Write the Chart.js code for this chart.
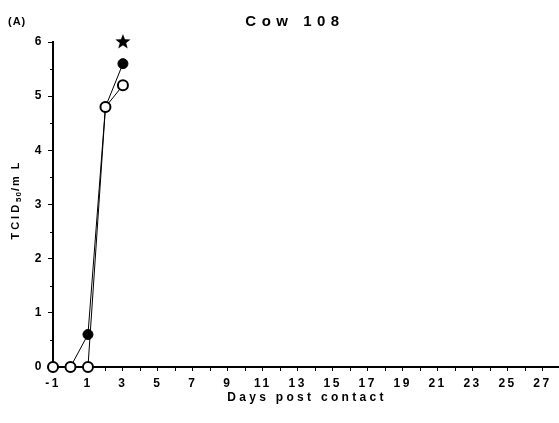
<!DOCTYPE html>
<html>
<head>
<meta charset="utf-8">
<script src="https://cdn.jsdelivr.net/npm/chart.js@4.4.1/dist/chart.umd.min.js"></script>
<style>
  html, body { margin: 0; padding: 0; background: #fff; overflow: hidden; }
  #box { width: 559px; height: 423px; overflow: hidden; }
</style>
</head>
<body>
<div id="box"><canvas id="grafico" width="569" height="423"></canvas></div>
<script>
// dados
const dias = [-1, 0, 1, 2, 3];
const serieAberta = [0, 0, 0, 4.8, 5.2];
const serieCheia = [0, 0, 0.6, 4.8, 5.6];
const estrelaDia = [3];
const estrelaValor = [6];
const rotulosX = [-1, 1, 3, 5, 7, 9, 11, 13, 15, 17, 19, 21, 23, 25, 27];

const fonte = "'Liberation Sans', Arial, sans-serif";

function pontos(xs, ys) {
    return xs.map((x, i) => ({ x: x, y: ys[i] }));
}

// estrela cheia desenhada num canvas à parte
function criarEstrela(r) {
    const c = document.createElement('canvas');
    c.width = r * 2 + 2;
    c.height = r * 2 + 2;
    const g = c.getContext('2d');
    g.fillStyle = '#000';
    g.beginPath();
    for (let i = 0; i < 10; i++) {
        const raio = i % 2 === 0 ? r : r * 0.42;
        const a = -Math.PI / 2 + i * Math.PI / 5;
        const px = r + 1 + raio * Math.cos(a);
        const py = r + 1 + raio * Math.sin(a);
        if (i === 0) g.moveTo(px, py); else g.lineTo(px, py);
    }
    g.closePath();
    g.fill();
    return c;
}

const textos = {
    id: 'textos',
    beforeDraw(chart) {
        chart.ctx.letterSpacing = '2.5px';
    },
    afterDraw(chart) {
        const ctx = chart.ctx;
        const y = chart.scales.y;
        ctx.save();
        ctx.fillStyle = '#000';
        ctx.textBaseline = 'middle';

        // minor ticks no eixo y
        ctx.strokeStyle = '#000';
        ctx.lineWidth = 1;
        for (let v = 0.5; v < 6; v += 1) {
            const py = Math.round(y.getPixelForValue(v)) + 0.5;
            ctx.beginPath();
            ctx.moveTo(chart.chartArea.left - 3, py);
            ctx.lineTo(chart.chartArea.left, py);
            ctx.stroke();
        }

        // titulo
        ctx.letterSpacing = '5.5px';
        ctx.font = 'bold 15px ' + fonte;
        ctx.textAlign = 'center';
        ctx.fillText('Cow 108', 295, 22);

        ctx.letterSpacing = '1px';
        ctx.font = 'bold 11px ' + fonte;
        ctx.textAlign = 'left';
        ctx.fillText('(A)', 8, 22);

        // titulo eixo x
        ctx.letterSpacing = '3.3px';
        ctx.font = 'bold 12px ' + fonte;
        ctx.textAlign = 'center';
        ctx.fillText('Days post contact', 307, 398);

        // titulo eixo y com subscrito
        ctx.translate(16, 200);
        ctx.rotate(-Math.PI / 2);
        ctx.textAlign = 'left';
        const partes = [
            ['TCID', 'bold 11px ' + fonte, 0, '3px'],
            ['50', 'bold 8px ' + fonte, 3, '1px'],
            ['/m L', 'bold 11px ' + fonte, 0, '2px']
        ];
        let largura = 0;
        partes.forEach(p => { ctx.font = p[1]; ctx.letterSpacing = p[3]; largura += ctx.measureText(p[0]).width; });
        let px = -largura / 2;
        partes.forEach(p => {
            ctx.font = p[1];
            ctx.letterSpacing = p[3];
            ctx.fillText(p[0], px, p[2]);
            px += ctx.measureText(p[0]).width;
        });
        ctx.restore();
    }
};

new Chart(document.getElementById('grafico'), {
    type: 'line',
    data: {
        datasets: [
            {
                data: pontos(dias, serieAberta),
                borderColor: '#000',
                borderWidth: 1,
                pointRadius: 5,
                pointBorderWidth: 2,
                pointBackgroundColor: '#fff',
                pointBorderColor: '#000',
                tension: 0,
                clip: false
            },
            {
                data: pontos(dias, serieCheia),
                borderColor: '#000',
                borderWidth: 1,
                pointRadius: 5,
                pointBorderWidth: 1,
                pointBackgroundColor: '#000',
                pointBorderColor: '#000',
                tension: 0,
                clip: false
            },
            {
                data: pontos(estrelaDia, estrelaValor),
                showLine: false,
                pointStyle: criarEstrela(8),
                pointRadius: 8,
                clip: false
            }
        ]
    },
    options: {
        responsive: false,
        animation: false,
        maintainAspectRatio: false,
        layout: { padding: { top: 42, right: 0, left: 0, bottom: 0 } },
        plugins: { legend: { display: false }, tooltip: { enabled: false }, title: { display: false } },
        scales: {
            x: {
                type: 'linear',
                min: -1,
                max: 28,
                afterFit: s => { s.height = 56; s.paddingRight = 0; s.paddingLeft = 0; },
                border: { display: true, color: '#000', width: 2 },
                grid: { display: true, drawOnChartArea: false, drawTicks: true, tickLength: 4, color: '#000', lineWidth: 1 },
                ticks: {
                    stepSize: 1,
                    autoSkip: false,
                    maxRotation: 0,
                    padding: 5,
                    color: '#000',
                    font: { family: fonte, size: 12, weight: 'bold' },
                    callback: v => rotulosX.includes(v) ? String(v) : ''
                }
            },
            y: {
                min: 0,
                max: 6,
                afterFit: s => { s.width = 53; },
                border: { display: true, color: '#000', width: 2 },
                grid: { display: true, drawOnChartArea: false, drawTicks: true, tickLength: 5, color: '#000', lineWidth: 1 },
                ticks: {
                    stepSize: 1,
                    padding: 4,
                    color: '#000',
                    font: { family: fonte, size: 12, weight: 'bold' }
                }
            }
        }
    },
    plugins: [textos]
});
</script>
</body>
</html>
